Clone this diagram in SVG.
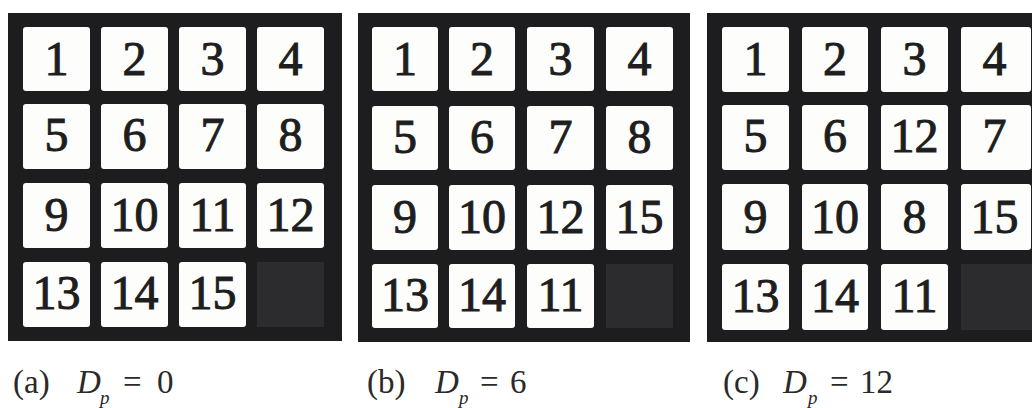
<svg xmlns="http://www.w3.org/2000/svg" width="1032" height="408" viewBox="0 0 1032 408">
<style>
.board{fill:#1d1c1e}
.tile{fill:#fdfdfc}
.blank{fill:#2c2b2d}
.num{font-family:"Liberation Serif","Times New Roman",serif;font-size:48px;fill:#1e1e1e;stroke:#1e1e1e;stroke-width:1;text-anchor:middle}
.cap{font-family:"Liberation Serif","Times New Roman",serif;font-size:33px;fill:#2a2a2a}
.it{font-style:italic}
.sub{font-family:"Liberation Serif","Times New Roman",serif;font-size:19px;font-style:italic;fill:#2a2a2a}
</style>
<rect width="1032" height="408" fill="#ffffff"/>

<g id="panel-a">
<rect class="board" x="8" y="13" width="334" height="328"/>
<g id="a-t1"><rect class="tile" x="23" y="27" width="67" height="64" rx="3"/><text class="num" x="56.5" y="75">1</text></g>
<g id="a-t2"><rect class="tile" x="101" y="27" width="67" height="64" rx="3"/><text class="num" x="134.5" y="75">2</text></g>
<g id="a-t3"><rect class="tile" x="179" y="27" width="67" height="64" rx="3"/><text class="num" x="212.5" y="75">3</text></g>
<g id="a-t4"><rect class="tile" x="257" y="27" width="67" height="64" rx="3"/><text class="num" x="290.5" y="75">4</text></g>
<g id="a-t5"><rect class="tile" x="23" y="104" width="67" height="65" rx="3"/><text class="num" x="56.5" y="151">5</text></g>
<g id="a-t6"><rect class="tile" x="101" y="104" width="67" height="65" rx="3"/><text class="num" x="134.5" y="151">6</text></g>
<g id="a-t7"><rect class="tile" x="179" y="104" width="67" height="65" rx="3"/><text class="num" x="212.5" y="151">7</text></g>
<g id="a-t8"><rect class="tile" x="257" y="104" width="67" height="65" rx="3"/><text class="num" x="290.5" y="151">8</text></g>
<g id="a-t9"><rect class="tile" x="23" y="183" width="67" height="65" rx="3"/><text class="num" x="56.5" y="231">9</text></g>
<g id="a-t10"><rect class="tile" x="101" y="183" width="67" height="65" rx="3"/><text class="num" x="134.5" y="231">10</text></g>
<g id="a-t11"><rect class="tile" x="179" y="183" width="67" height="65" rx="3"/><text class="num" x="212.5" y="231">11</text></g>
<g id="a-t12"><rect class="tile" x="257" y="183" width="67" height="65" rx="3"/><text class="num" x="290.5" y="231">12</text></g>
<g id="a-t13"><rect class="tile" x="23" y="262" width="67" height="65" rx="3"/><text class="num" x="56.5" y="309">13</text></g>
<g id="a-t14"><rect class="tile" x="101" y="262" width="67" height="65" rx="3"/><text class="num" x="134.5" y="309">14</text></g>
<g id="a-t15"><rect class="tile" x="179" y="262" width="67" height="65" rx="3"/><text class="num" x="212.5" y="309">15</text></g>
<g id="a-blank"><rect class="blank" x="257" y="262" width="67" height="65"/></g>
<text class="cap" y="393"><tspan x="13">(a)</tspan><tspan x="77" class="it">D</tspan><tspan x="123">=</tspan><tspan x="157">0</tspan></text>
<text class="sub" x="100" y="404">p</text>
</g>

<g id="panel-b">
<rect class="board" x="358" y="13" width="332" height="329"/>
<g id="b-t1"><rect class="tile" x="372" y="27" width="66" height="64" rx="3"/><text class="num" x="405" y="75">1</text></g>
<g id="b-t2"><rect class="tile" x="449" y="27" width="66" height="64" rx="3"/><text class="num" x="482" y="75">2</text></g>
<g id="b-t3"><rect class="tile" x="527" y="27" width="67" height="64" rx="3"/><text class="num" x="560.5" y="75">3</text></g>
<g id="b-t4"><rect class="tile" x="606" y="27" width="67" height="64" rx="3"/><text class="num" x="639.5" y="75">4</text></g>
<g id="b-t5"><rect class="tile" x="372" y="106" width="66" height="64" rx="3"/><text class="num" x="405" y="153">5</text></g>
<g id="b-t6"><rect class="tile" x="449" y="106" width="66" height="64" rx="3"/><text class="num" x="482" y="153">6</text></g>
<g id="b-t7"><rect class="tile" x="527" y="106" width="67" height="64" rx="3"/><text class="num" x="560.5" y="153">7</text></g>
<g id="b-t8"><rect class="tile" x="606" y="106" width="67" height="64" rx="3"/><text class="num" x="639.5" y="153">8</text></g>
<g id="b-t9"><rect class="tile" x="372" y="185" width="66" height="65" rx="3"/><text class="num" x="405" y="233">9</text></g>
<g id="b-t10"><rect class="tile" x="449" y="185" width="66" height="65" rx="3"/><text class="num" x="482" y="233">10</text></g>
<g id="b-t12"><rect class="tile" x="527" y="185" width="67" height="65" rx="3"/><text class="num" x="560.5" y="233">12</text></g>
<g id="b-t15"><rect class="tile" x="606" y="185" width="67" height="65" rx="3"/><text class="num" x="639.5" y="233">15</text></g>
<g id="b-t13"><rect class="tile" x="372" y="264" width="66" height="64" rx="3"/><text class="num" x="405" y="311">13</text></g>
<g id="b-t14"><rect class="tile" x="449" y="264" width="66" height="64" rx="3"/><text class="num" x="482" y="311">14</text></g>
<g id="b-t11"><rect class="tile" x="527" y="264" width="67" height="64" rx="3"/><text class="num" x="560.5" y="311">11</text></g>
<g id="b-blank"><rect class="blank" x="606" y="264" width="67" height="64"/></g>
<text class="cap" y="393"><tspan x="367">(b)</tspan><tspan x="435" class="it">D</tspan><tspan x="480">=</tspan><tspan x="510">6</tspan></text>
<text class="sub" x="459" y="404">p</text>
</g>

<g id="panel-c">
<rect class="board" x="707" y="13" width="340" height="329"/>
<g id="c-t1"><rect class="tile" x="722" y="27" width="67" height="65" rx="3"/><text class="num" x="755.5" y="75">1</text></g>
<g id="c-t2"><rect class="tile" x="802" y="27" width="66" height="65" rx="3"/><text class="num" x="835" y="75">2</text></g>
<g id="c-t3"><rect class="tile" x="881" y="27" width="67" height="65" rx="3"/><text class="num" x="914.5" y="75">3</text></g>
<g id="c-t4"><rect class="tile" x="961" y="27" width="70" height="65" rx="3"/><text class="num" x="994.5" y="75">4</text></g>
<g id="c-t5"><rect class="tile" x="722" y="105" width="67" height="65" rx="3"/><text class="num" x="755.5" y="152">5</text></g>
<g id="c-t6"><rect class="tile" x="802" y="105" width="66" height="65" rx="3"/><text class="num" x="835" y="152">6</text></g>
<g id="c-t12"><rect class="tile" x="881" y="105" width="67" height="65" rx="3"/><text class="num" x="914.5" y="152">12</text></g>
<g id="c-t7"><rect class="tile" x="961" y="105" width="70" height="65" rx="3"/><text class="num" x="994.5" y="152">7</text></g>
<g id="c-t9"><rect class="tile" x="722" y="184" width="67" height="66" rx="3"/><text class="num" x="755.5" y="233">9</text></g>
<g id="c-t10"><rect class="tile" x="802" y="184" width="66" height="66" rx="3"/><text class="num" x="835" y="233">10</text></g>
<g id="c-t8"><rect class="tile" x="881" y="184" width="67" height="66" rx="3"/><text class="num" x="914.5" y="233">8</text></g>
<g id="c-t15"><rect class="tile" x="961" y="184" width="70" height="66" rx="3"/><text class="num" x="994.5" y="233">15</text></g>
<g id="c-t13"><rect class="tile" x="722" y="264" width="67" height="66" rx="3"/><text class="num" x="755.5" y="312">13</text></g>
<g id="c-t14"><rect class="tile" x="802" y="264" width="66" height="66" rx="3"/><text class="num" x="835" y="312">14</text></g>
<g id="c-t11"><rect class="tile" x="881" y="264" width="67" height="66" rx="3"/><text class="num" x="914.5" y="312">11</text></g>
<g id="c-blank"><rect class="blank" x="961" y="264" width="71" height="66"/></g>
<text class="cap" y="393"><tspan x="723">(c)</tspan><tspan x="783" class="it">D</tspan><tspan x="830">=</tspan><tspan x="860">12</tspan></text>
<text class="sub" x="808" y="404">p</text>
</g>
</svg>
